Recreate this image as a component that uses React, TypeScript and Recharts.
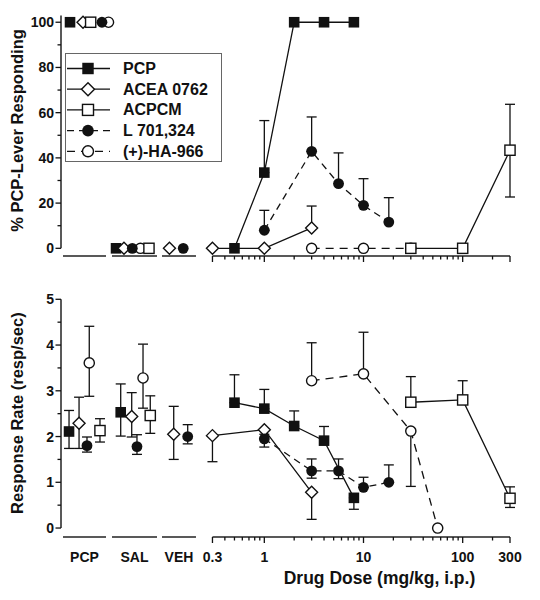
import React from "react";
import {
  ComposedChart,
  Scatter,
  XAxis,
  YAxis,
  ErrorBar,
  ReferenceLine,
  Legend,
} from "recharts";

// control groups shown left of the dose axis
const groups = ["PCP", "SAL", "VEH"];

// dose axis (mg/kg) labelled and minor ticks
const doseTicks = [0.3, 1, 10, 100, 300];
const minorTicks = [0.4, 0.5, 0.6, 0.7, 0.8, 0.9, 2, 3, 4, 5, 6, 7, 8, 9, 20, 30, 40, 50, 60, 70, 80, 90, 200];
const leverTicks = [0, 20, 40, 60, 80, 100];
const leverMinor = [10, 30, 50, 70, 90];
const rateTicks = [0, 1, 2, 3, 4, 5];
const rateMinor = [0.5, 1.5, 2.5, 3.5, 4.5];

// doses tested
const pcpDoses = [0.5, 1, 2, 4, 8];
const aceaDoses = [0.3, 1, 3];
const acpcmDoses = [30, 100, 300];
const l701Doses = [1, 3, 5.6, 10, 18];
const ha966LeverDoses = [3, 10, 30];
const ha966RateDoses = [3, 10, 30, 56];

type Err = [number, number] | null; // [down, up]

// % PCP-lever responding
const pcpLever = [0, 33.5, 100, 100, 100];
const pcpLeverErr: Err[] = [null, [0, 23], null, null, null];
const aceaLever = [0, 0, 9];
const aceaLeverErr: Err[] = [null, null, [0, 9.7]];
const acpcmLever = [0, 0, 43.4];
const acpcmLeverErr: Err[] = [null, null, [20.7, 20.3]];
const l701Lever = [8, 42.9, 28.6, 19, 11.6];
const l701LeverErr: Err[] = [[0, 8.8], [0, 15.2], [0, 13.6], [0, 11.8], [0, 10.8]];
const ha966Lever = [0, 0, 0];

// lever controls (PCP, SAL, VEH)
const pcpLeverCtrl = [100, 0, null];
const aceaLeverCtrl = [100, 0, 0];
const acpcmLeverCtrl = [100, 0, null];
const l701LeverCtrl = [100, 0, 0];
const ha966LeverCtrl = [100, 0, null];

// response rate (resp/sec)
const pcpRate = [2.74, 2.61, 2.23, 1.91, 0.66];
const pcpRateErr: Err[] = [[0, 0.61], [0, 0.42], [0, 0.33], [0, 0.31], [0.25, 0]];
const aceaRate = [2.02, 2.15, 0.78];
const aceaRateErr: Err[] = [[0.57, 0], null, [0.59, 0]];
const acpcmRate = [2.75, 2.8, 0.65];
const acpcmRateErr: Err[] = [[0, 0.56], [0, 0.42], [0.2, 0.25]];
const l701Rate = [1.95, 1.25, 1.25, 0.89, 1.0];
const l701RateErr: Err[] = [[0.18, 0.1], [0.16, 0.26], [0.17, 0.26], [0, 0.22], [0, 0.38]];
const ha966Rate = [3.22, 3.37, 2.12, 0];
const ha966RateErr: Err[] = [[0, 0.83], [0, 0.91], [1.21, 0], null];

// rate controls (PCP, SAL, VEH)
const pcpRateCtrl = [2.11, 2.53, null];
const pcpRateCtrlErr: Err[] = [[0.37, 0.46], [0.52, 0.62], null];
const aceaRateCtrl = [2.29, 2.44, 2.05];
const aceaRateCtrlErr: Err[] = [[0.55, 0.57], [0.45, 0.52], [0.55, 0.61]];
const acpcmRateCtrl = [2.13, 2.46, null];
const acpcmRateCtrlErr: Err[] = [[0.25, 0.26], [0.39, 0.43], null];
const l701RateCtrl = [1.8, 1.78, 2.0];
const l701RateCtrlErr: Err[] = [[0.14, 0.19], [0.17, 0.26], [0.16, 0.26]];
const ha966RateCtrl = [3.61, 3.28, null];
const ha966RateCtrlErr: Err[] = [[0.73, 0.8], [0.66, 0.74], null];

const INK = "#111";
const FONT = '"Liberation Sans", Arial, Helvetica, sans-serif';

// x axis works in decades of dose; control groups sit left of 0.3
const U_MIN = -2.05;
const U_MAX = Math.log10(300);
const groupSpans: [number, number][] = [[-2.03, -1.596], [-1.536, -1.082], [-1.032, -0.689]];
const groupMid = (i: number) => (groupSpans[i][0] + groupSpans[i][1]) / 2;

type Kind = "fsq" | "osq" | "dia" | "fci" | "oci";

const SERIES: { key: string; name: string; kind: Kind; dash?: string }[] = [
  { key: "pcp", name: "PCP", kind: "fsq" },
  { key: "acea", name: "ACEA 0762", kind: "dia" },
  { key: "acpcm", name: "ACPCM", kind: "osq" },
  { key: "l701", name: "L 701,324", kind: "fci", dash: "7 5" },
  { key: "ha966", name: "(+)-HA-966", kind: "oci", dash: "8 6" },
];
const drawOrder = ["ha966", "pcp", "acea", "l701", "acpcm"];

// little horizontal dodge inside each control group, per panel
const leverDodge: Record<string, number[]> = {
  pcp: [-0.146, -0.186, 0],
  acea: [-0.015, -0.106, -0.096],
  acpcm: [0.062, 0.146, 0],
  l701: [0.176, -0.022, 0.043],
  ha966: [0.242, 0.06, 0],
};
const rateDodge: Record<string, number[]> = {
  pcp: [-0.156, -0.139, 0],
  acea: [-0.055, -0.028, -0.053],
  acpcm: [0.156, 0.159, 0],
  l701: [0.025, 0.025, 0.088],
  ha966: [0.048, 0.086, 0],
};

interface SeriesData {
  doses: number[];
  vals: number[];
  errs?: Err[];
  ctrl: (number | null)[];
  ctrlErr?: Err[];
}

const leverData: Record<string, SeriesData> = {
  pcp: { doses: pcpDoses, vals: pcpLever, errs: pcpLeverErr, ctrl: pcpLeverCtrl },
  acea: { doses: aceaDoses, vals: aceaLever, errs: aceaLeverErr, ctrl: aceaLeverCtrl },
  acpcm: { doses: acpcmDoses, vals: acpcmLever, errs: acpcmLeverErr, ctrl: acpcmLeverCtrl },
  l701: { doses: l701Doses, vals: l701Lever, errs: l701LeverErr, ctrl: l701LeverCtrl },
  ha966: { doses: ha966LeverDoses, vals: ha966Lever, ctrl: ha966LeverCtrl },
};

const rateData: Record<string, SeriesData> = {
  pcp: { doses: pcpDoses, vals: pcpRate, errs: pcpRateErr, ctrl: pcpRateCtrl, ctrlErr: pcpRateCtrlErr },
  acea: { doses: aceaDoses, vals: aceaRate, errs: aceaRateErr, ctrl: aceaRateCtrl, ctrlErr: aceaRateCtrlErr },
  acpcm: { doses: acpcmDoses, vals: acpcmRate, errs: acpcmRateErr, ctrl: acpcmRateCtrl, ctrlErr: acpcmRateCtrlErr },
  l701: { doses: l701Doses, vals: l701Rate, errs: l701RateErr, ctrl: l701RateCtrl, ctrlErr: l701RateCtrlErr },
  ha966: { doses: ha966RateDoses, vals: ha966Rate, errs: ha966RateErr, ctrl: ha966RateCtrl, ctrlErr: ha966RateCtrlErr },
};

const doseRows = (d: SeriesData) =>
  d.doses.map((dose, i) => ({ u: Math.log10(dose), v: d.vals[i], e: d.errs?.[i] ?? undefined }));

const ctrlRows = (d: SeriesData, dodge: number[]) =>
  groups
    .map((_, i) =>
      d.ctrl[i] == null ? null : { u: groupMid(i) + dodge[i], v: d.ctrl[i] as number, e: d.ctrlErr?.[i] ?? undefined }
    )
    .filter(Boolean) as { u: number; v: number; e?: [number, number] }[];

const xTickMeta = [
  ...groups.map((g, i) => ({ u: groupMid(i), label: g, len: 0 })),
  ...doseTicks.map((d) => ({ u: Math.log10(d), label: String(d), len: 6 })),
  ...minorTicks.map((d) => ({ u: Math.log10(d), label: "", len: 3.5 })),
];

function Marker({ kind, cx, cy, s = 1 }: { kind: Kind; cx: number; cy: number; s?: number }) {
  if (kind === "fsq") {
    const h = 5.3 * s;
    return <rect x={cx - h} y={cy - h} width={2 * h} height={2 * h} fill={INK} />;
  }
  if (kind === "osq") {
    const h = 5.1 * s;
    return <rect x={cx - h} y={cy - h} width={2 * h} height={2 * h} fill="#fff" stroke={INK} strokeWidth={1.4} />;
  }
  if (kind === "dia") {
    const r = 6 * s;
    return (
      <polygon
        points={`${cx},${cy - r} ${cx + r},${cy} ${cx},${cy + r} ${cx - r},${cy}`}
        fill="#fff"
        stroke={INK}
        strokeWidth={1.4}
      />
    );
  }
  if (kind === "fci") return <circle cx={cx} cy={cy} r={5.4 * s} fill={INK} />;
  return <circle cx={cx} cy={cy} r={5.1 * s} fill="#fff" stroke={INK} strokeWidth={1.4} />;
}

function LegendBox() {
  return (
    <div
      style={{
        width: 157,
        height: 109,
        border: "1.5px solid #666",
        boxSizing: "border-box",
        background: "#fff",
      }}
    >
      <svg width={154} height={106} style={{ display: "block", overflow: "visible" }}>
        {SERIES.map((s, i) => {
          const y = 14.5 + i * 20.7;
          return (
            <g key={s.key}>
              <line x1={1} x2={44} y1={y} y2={y} stroke={INK} strokeWidth={1.3} strokeDasharray={s.dash} />
              <Marker kind={s.kind} cx={22} cy={y} s={1.08} />
              <text x={57} y={y} dominantBaseline="central" fontFamily={FONT} fontWeight="bold" fontSize={16} fill={INK}>
                {s.name}
              </text>
            </g>
          );
        })}
      </svg>
    </div>
  );
}

const makeXTick = (showLabels: boolean) => (props: any) => {
  const { x, y, payload } = props;
  const m = xTickMeta.find((t) => Math.abs(t.u - payload.value) < 1e-9);
  if (!m) return <g />;
  return (
    <g>
      {m.len > 0 && <line x1={x} x2={x} y1={y} y2={y + m.len} stroke={INK} strokeWidth={1.3} />}
      {showLabels && m.label && (
        <text x={x} y={y + 20} textAnchor="middle" dominantBaseline="central" fontFamily={FONT} fontWeight="bold" fontSize={14} fill={INK}>
          {m.label}
        </text>
      )}
    </g>
  );
};

const makeYTick = (majors: number[]) => (props: any) => {
  const { x, y, payload } = props;
  const major = majors.includes(payload.value);
  return (
    <g>
      <line x1={x - (major ? 5.5 : 3.5)} x2={x} y1={y} y2={y} stroke={INK} strokeWidth={1.3} />
      {major && (
        <text x={x - 7} y={y} textAnchor="end" dominantBaseline="central" fontFamily={FONT} fontWeight="bold" fontSize={14} fill={INK}>
          {payload.value}
        </text>
      )}
    </g>
  );
};

const yTitle = (text: string) => (props: any) => {
  const vb = props.viewBox;
  const cy = vb.y + vb.height / 2 - 5;
  return (
    <text
      x={17}
      y={cy}
      transform={`rotate(-90 17 ${cy})`}
      textAnchor="middle"
      dominantBaseline="central"
      fontFamily={FONT}
      fontWeight="bold"
      fontSize={16.5}
      fill={INK}
    >
      {text}
    </text>
  );
};

const xTitle = (props: any) => {
  const vb = props.viewBox;
  return (
    <text
      x={vb.x + 318.5}
      y={vb.y + 41}
      textAnchor="middle"
      dominantBaseline="central"
      fontFamily={FONT}
      fontWeight="bold"
      fontSize={17.5}
      fill={INK}
    >
      Drug Dose (mg/kg, i.p.)
    </text>
  );
};

interface PanelProps {
  height: number;
  marginTop: number;
  axisHeight: number;
  yDomain: [number, number];
  yLineTop: number;
  yMajor: number[];
  yMinor: number[];
  title: string;
  data: Record<string, SeriesData>;
  dodge: Record<string, number[]>;
  bottomLabels: boolean;
  legend?: boolean;
}

function Panel(p: PanelProps) {
  const yMin = p.yDomain[0];
  const axisStroke = { stroke: "#222", strokeWidth: 1.5, ifOverflow: "visible" as const };
  return (
    <ComposedChart width={540} height={p.height} margin={{ top: p.marginTop, right: 30, bottom: 0, left: 1 }}>
      <XAxis
        type="number"
        dataKey="u"
        domain={[U_MIN, U_MAX]}
        ticks={xTickMeta.map((t) => t.u)}
        interval={0}
        axisLine={false}
        tickLine={false}
        tickSize={0}
        tickMargin={0}
        tick={makeXTick(p.bottomLabels)}
        height={p.axisHeight}
        label={p.bottomLabels ? { content: xTitle } : undefined}
      />
      <YAxis
        type="number"
        dataKey="v"
        domain={p.yDomain}
        ticks={[...p.yMajor, ...p.yMinor]}
        interval={0}
        axisLine={false}
        tickLine={false}
        tickSize={0}
        tickMargin={0}
        tick={makeYTick(p.yMajor)}
        width={60}
        label={{ content: yTitle(p.title) }}
      />
      <ReferenceLine segment={[{ x: U_MIN, y: 0 }, { x: U_MIN, y: p.yLineTop }]} {...axisStroke} />
      {groupSpans.map((sp, i) => (
        <ReferenceLine key={groups[i]} segment={[{ x: sp[0], y: yMin }, { x: sp[1], y: yMin }]} {...axisStroke} />
      ))}
      <ReferenceLine segment={[{ x: Math.log10(doseTicks[0]), y: yMin }, { x: U_MAX, y: yMin }]} {...axisStroke} />
      {drawOrder.flatMap((key) => {
        const s = SERIES.find((q) => q.key === key)!;
        const d = p.data[key];
        const shape = (sp: any) => <Marker kind={s.kind} cx={sp.cx} cy={sp.cy} />;
        return [
          <Scatter key={key + "-ctrl"} name={s.name} data={ctrlRows(d, p.dodge[key])} shape={shape} isAnimationActive={false}>
            <ErrorBar dataKey="e" direction="y" width={5} stroke={INK} strokeWidth={1.3} />
          </Scatter>,
          <Scatter
            key={key + "-dose"}
            name={s.name}
            data={doseRows(d)}
            shape={shape}
            line={{ stroke: INK, strokeWidth: 1.3, strokeDasharray: s.dash }}
            lineType="joint"
            isAnimationActive={false}
          >
            <ErrorBar dataKey="e" direction="y" width={5} stroke={INK} strokeWidth={1.3} />
          </Scatter>,
        ];
      })}
      {p.legend && (
        <Legend
          layout="horizontal"
          verticalAlign="middle"
          align="center"
          content={() => <LegendBox />}
          wrapperStyle={{ left: 65, top: 53, width: 157, height: 109 }}
        />
      )}
    </ComposedChart>
  );
}

export default function App() {
  return (
    <div style={{ position: "absolute", left: 0, top: 0, width: 540, height: 600, background: "#fff" }}>
      <Panel
        height={280}
        marginTop={15}
        axisHeight={24}
        yDomain={[-3.4, 103.2]}
        yLineTop={103}
        yMajor={leverTicks}
        yMinor={leverMinor}
        title="% PCP-Lever Responding"
        data={leverData}
        dodge={leverDodge}
        bottomLabels={false}
        legend
      />
      <Panel
        height={320}
        marginTop={19.3}
        axisHeight={63}
        yDomain={[-0.196, 5]}
        yLineTop={5}
        yMajor={rateTicks}
        yMinor={rateMinor}
        title="Response Rate (resp/sec)"
        data={rateData}
        dodge={rateDodge}
        bottomLabels
      />
    </div>
  );
}
